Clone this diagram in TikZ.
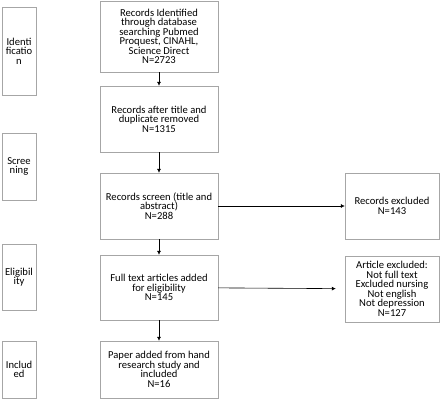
\documentclass[tikz,border=0pt]{standalone}
\usepackage{fontspec}
\setmainfont{Carlito}
\usetikzlibrary{arrows.meta}
\tikzset{
  box/.style={draw=gray!70, fill=white, align=center, font=\fontsize{10.6}{9.5}\selectfont, inner sep=1pt},
  phase/.style={box, minimum width=34pt},
  flow/.style={-{Latex[length=4pt,width=4pt]}, semithick}
}
\begin{document}
\begin{tikzpicture}[x=1pt,y=-1pt]
  \useasboundingbox (0,0) rectangle (440,409);
  % phases
  \node[phase, minimum height=88pt] (ident) at (19,51) {Identi\\ficatio\\n};
  \node[phase, minimum height=67pt] (screen) at (19,166.5) {Scree\\ning};
  \node[phase, minimum height=66pt] (elig) at (19,277) {Eligibil\\ity};
  \node[phase, minimum height=57pt] (incl) at (19,369.5) {Includ\\ed};
  % main column
  \node[box, minimum width=118pt, minimum height=71pt] (db) at (159,36.5) {Records Identified\\through database\\searching Pubmed\\Proquest, CINAHL,\\Science Direct\\N=2723};
  \node[box, minimum width=118pt, minimum height=66pt] (dup) at (159,119) {Records after title and\\duplicate removed\\N=1315};
  \node[box, minimum width=118pt, minimum height=66pt] (scr) at (159,206) {Records screen (title and\\abstract)\\N=288};
  \node[box, minimum width=118pt, minimum height=65pt] (full) at (159,287.5) {Full text articles added\\for eligibility\\N=145};
  \node[box, minimum width=118pt, minimum height=57pt] (hand) at (159,369.5) {Paper added from hand\\research study and\\included\\N=16};
  % excluded
  \node[box, minimum width=94pt, minimum height=66pt] (exc) at (392,206) {Records excluded\\N=143};
  \node[box, minimum width=94pt, minimum height=66pt] (art) at (392,289) {Article excluded:\\Not full text\\Excluded nursing\\Not english\\Not depression\\N=127};
  % arrows
  \draw[flow] (db) -- (dup);
  \draw[flow] (dup) -- (scr);
  \draw[flow] (scr) -- (exc);
  \draw[flow] (scr) -- (full);
  \draw[flow, shorten >=9pt] (full) -- (art);
  \draw[flow] (full) -- (hand);
\end{tikzpicture}
\end{document}
